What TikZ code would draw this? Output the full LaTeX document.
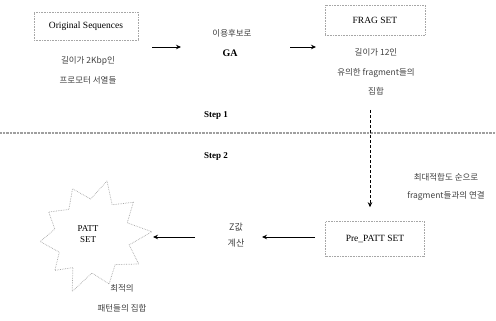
\documentclass[tikz,border=0pt]{standalone}
\usepackage{fontspec}
\setmainfont{Liberation Serif}
\newfontfamily\kr{Noto Sans CJK KR}
\usetikzlibrary{arrows.meta,calc}
\begin{document}
\begin{tikzpicture}[x=1pt,y=-1pt,
  dbox/.style={draw=gray!70,densely dotted,line width=0.6pt,minimum height=28pt,inner sep=2pt},
  krlab/.style={font=\kr\fontsize{8.5}{13}\selectfont,text=black!75,align=center},
  arr/.style={-{Stealth[length=5pt,width=4.5pt]},line width=0.8pt}]
\useasboundingbox (0,0) rectangle (496,321);
% Step 1
\node[dbox,minimum width=104pt] (orig) at (86,26) {\fontsize{9.5}{10}\selectfont Original Sequences};
\node[krlab,font=\kr\fontsize{8.5}{20}\selectfont] (origtxt) at (88,70) {길이가 2Kbp인\\프로모터 서열들};
\node[krlab,font=\kr\fontsize{8.5}{9}\selectfont] (gak) at (232,33) {이용후보로};
\node[font=\bfseries\fontsize{10}{11}\selectfont] (ga) at (230,53) {GA};
\node[dbox,minimum width=100pt,minimum height=30pt] (frag) at (375,20) {\fontsize{9.5}{10}\selectfont FRAG SET};
\node[krlab,font=\kr\fontsize{8.5}{19.5}\selectfont] (fragtxt) at (376,72) {길이가 12인\\유의한 fragment들의\\집합};
\coordinate (a1s) at (152,47);
\coordinate (a1e) at (181,47);
\coordinate (a2s) at (290,47);
\coordinate (a2e) at (316,47);
\draw[arr] (a1s) -- (a1e);
\draw[arr] (a2s) -- (a2e);
\node[font=\bfseries\fontsize{9}{10}\selectfont] (s1) at (216,115) {Step 1};
% divider
\coordinate (hl) at (0,133);
\coordinate (hr) at (496,133);
\draw[gray!75,line width=1.4pt,dash pattern=on 1pt off 0.4pt] (hl) -- (hr);
\node[font=\bfseries\fontsize{9}{10}\selectfont] (s2) at (216,156) {Step 2};
% Step 2
\coordinate (vs) at (370,110);
\node[dbox,minimum width=99pt,minimum height=35pt] (pre) at (375,239) {\fontsize{9.5}{10}\selectfont Pre\_PATT SET};
\draw[arr,densely dashed,line width=0.6pt] (vs) -- ($(pre.north)+(-5,-14)$) coordinate (vend);
\node[krlab,font=\kr\fontsize{8.5}{18}\selectfont] (sorttxt) at (446,187) {최대적합도 순으로\\fragment들과의 연결};
\node[krlab,font=\kr\fontsize{9}{16}\selectfont] (z) at (236,235) {Z값\\계산};
\coordinate (a3s) at (315,237);
\coordinate (a3e) at (262,237);
\coordinate (a4s) at (195,237);
\coordinate (a4e) at (153,237);
\draw[arr] (a3s) -- (a3e);
\draw[arr] (a4s) -- (a4e);
% star
\coordinate (c) at (92,237);
\draw[gray!70,densely dotted,line width=0.7pt]
  ($(c)+(75:58pt)$) -- ($(c)+(92:38pt)$) -- ($(c)+(112:52pt)$) -- ($(c)+(130:36pt)$) --
  ($(c)+(150:50pt)$) -- ($(c)+(168:38pt)$) -- ($(c)+(185:52pt)$) -- ($(c)+(205:36pt)$) --
  ($(c)+(222:50pt)$) -- ($(c)+(238:36pt)$) -- ($(c)+(250:58pt)$) -- ($(c)+(270:36pt)$) --
  ($(c)+(290:50pt)$) -- ($(c)+(310:36pt)$) -- ($(c)+(330:54pt)$) -- ($(c)+(348:38pt)$) --
  ($(c)+(5:60pt)$) -- ($(c)+(22:38pt)$) -- ($(c)+(40:54pt)$) -- ($(c)+(58:38pt)$) -- cycle;
\node[align=center,font=\fontsize{9}{11}\selectfont] (patt) at (88,234) {PATT\\SET};
\node[krlab,font=\kr\fontsize{8.5}{20}\selectfont] (best) at (122,298) {최적의\\패턴들의 집합};
\end{tikzpicture}
\end{document}
